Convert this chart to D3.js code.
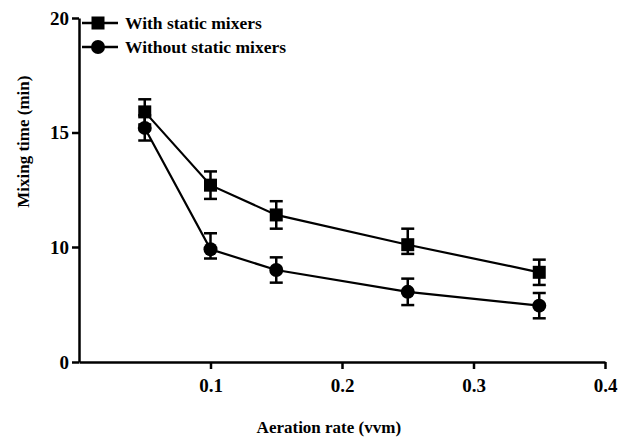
<!DOCTYPE html>
<html>
<head>
<meta charset="utf-8">
<script src="https://cdn.jsdelivr.net/npm/d3@7"></script>
<style>
  body { margin: 0; background: #fff; }
</style>
</head>
<body>
<div id="chart"></div>
<script>
// Data
const aeration = [0.05, 0.1, 0.15, 0.25, 0.35];
const withMixers = [15.9, 12.7, 11.4, 10.1, 7.8];
const withErr = [0.55, 0.6, 0.6, 0.7, 1.1];
const withoutMixers = [15.2, 9.8, 8.0, 6.1, 4.9];
const withoutErr = [0.55, 0.8, 1.1, 1.15, 1.1];
const seriesNames = ["With static mixers", "Without static mixers"];
const xTicks = [0.1, 0.2, 0.3, 0.4];
const yTicks = [0, 10, 15, 20];

const series = [
  { name: seriesNames[0], shape: "square", values: withMixers, err: withErr },
  { name: seriesNames[1], shape: "circle", values: withoutMixers, err: withoutErr },
];

const fontFamily = "'Liberation Serif'";
const svgWidth = 619, svgHeight = 437;
const margin = { top: 18, right: 14, bottom: 75, left: 79 };
const width = svgWidth - margin.left - margin.right;
const height = svgHeight - margin.top - margin.bottom;

// Scales (y axis is segmented: 0-10 squeezed into the same room as 10-15)
const xScale = d3.scaleLinear().domain([0, 0.4]).range([0, width]);
const yScale = d3.scaleLinear().domain([0, 10, 20]).range([height, height - 115, 0]);

const svg = d3.select("#chart").append("svg")
  .attr("width", svgWidth).attr("height", svgHeight);
const g = svg.append("g").attr("transform", `translate(${margin.left},${margin.top})`);

// Axes
const gX = g.append("g")
  .attr("transform", `translate(0,${height})`)
  .call(d3.axisBottom(xScale).tickValues(xTicks).tickFormat(d3.format(".1f"))
    .tickSize(7).tickSizeOuter(0).tickPadding(10));
const gY = g.append("g")
  .call(d3.axisLeft(yScale).tickValues(yTicks).tickFormat(d3.format("d"))
    .tickSize(7).tickSizeOuter(0).tickPadding(3));
[gX, gY].forEach((ax) => {
  ax.attr("font-family", fontFamily).attr("font-size", 19).attr("font-weight", "bold");
  ax.select(".domain").attr("stroke-width", 2.5);
  ax.selectAll(".tick line").attr("stroke-width", 2.5);
});

// Axis titles
g.append("text")
  .attr("x", xScale(0.19)).attr("y", height + 71)
  .attr("text-anchor", "middle")
  .attr("font-family", fontFamily).attr("font-size", 17).attr("font-weight", "bold")
  .text("Aeration rate (vvm)");
g.append("text")
  .attr("transform", `translate(${-50},${yScale(14.6)}) rotate(-90)`)
  .attr("text-anchor", "middle")
  .attr("font-family", fontFamily).attr("font-size", 17).attr("font-weight", "bold")
  .text("Mixing time (min)");

const line = d3.line().x((d) => xScale(d.x)).y((d) => yScale(d.y));
const markerSize = 13;

function drawMarker(sel, shape) {
  if (shape === "square") {
    sel.append("rect")
      .attr("x", -markerSize / 2).attr("y", -markerSize / 2)
      .attr("width", markerSize).attr("height", markerSize)
      .attr("fill", "#000");
  } else {
    sel.append("circle").attr("r", markerSize / 2 + 0.5).attr("fill", "#000");
  }
}

series.forEach((s) => {
  const pts = aeration.map((x, i) => ({ x, y: s.values[i], e: s.err[i] }));
  const gs = g.append("g");
  gs.append("path")
    .attr("d", line(pts))
    .attr("fill", "none").attr("stroke", "#000").attr("stroke-width", 2.2);

  // Error bars
  const eb = gs.selectAll(".err").data(pts).join("g").attr("class", "err")
    .attr("stroke", "#000").attr("stroke-width", 2.5);
  eb.append("line")
    .attr("x1", (d) => xScale(d.x)).attr("x2", (d) => xScale(d.x))
    .attr("y1", (d) => yScale(d.y - d.e)).attr("y2", (d) => yScale(d.y + d.e));
  eb.append("line")
    .attr("x1", (d) => xScale(d.x) - 6.5).attr("x2", (d) => xScale(d.x) + 6.5)
    .attr("y1", (d) => yScale(d.y + d.e)).attr("y2", (d) => yScale(d.y + d.e));
  eb.append("line")
    .attr("x1", (d) => xScale(d.x) - 6.5).attr("x2", (d) => xScale(d.x) + 6.5)
    .attr("y1", (d) => yScale(d.y - d.e)).attr("y2", (d) => yScale(d.y - d.e));

  gs.selectAll(".pt").data(pts).join("g").attr("class", "pt")
    .attr("transform", (d) => `translate(${xScale(d.x)},${yScale(d.y)})`)
    .each(function () { drawMarker(d3.select(this), s.shape); });
});

// Legend
const legend = g.append("g").selectAll("g").data(series).join("g")
  .attr("transform", (d, i) => `translate(0,${5 + i * 24})`);
legend.append("line")
  .attr("x1", 3).attr("x2", 39).attr("y1", 0).attr("y2", 0)
  .attr("stroke", "#000").attr("stroke-width", 2.5);
legend.append("g").attr("transform", "translate(19,0)")
  .each(function (d) { drawMarker(d3.select(this), d.shape); });
legend.append("text")
  .attr("x", 46).attr("y", 0).attr("dy", "0.35em")
  .attr("font-family", fontFamily).attr("font-size", 17.5).attr("font-weight", "bold")
  .text((d) => d.name);
</script>
</body>
</html>
